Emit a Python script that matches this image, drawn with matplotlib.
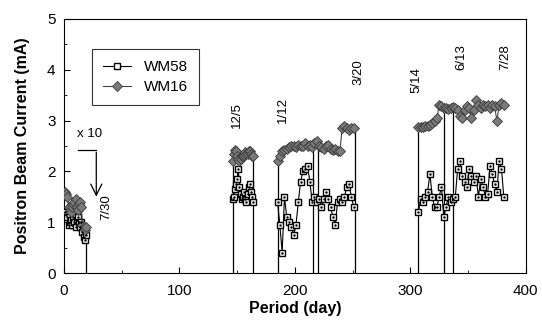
import numpy as np
import matplotlib
matplotlib.use('Agg')
import matplotlib.pyplot as plt

plt.rcParams['font.family'] = ['Liberation Sans', 'DejaVu Sans']

# segment 1 (x 10)
d1 = list(range(1, 20))
wm58_1 = [1.2, 1.15, 1.1, 0.95, 1.0, 1.05, 0.95, 1.1, 1.0, 0.9, 1.05, 1.1, 1.0, 0.9, 1.0, 0.8, 0.7, 0.65, 0.75]
wm16_1 = [1.6, 1.55, 1.5, 1.3, 1.25, 1.2, 1.3, 1.35, 1.4, 1.45, 1.3, 1.25, 1.35, 1.4, 1.3, 0.95, 0.9, 0.85, 0.9]

# segment 2
d2 = list(range(146, 165))
wm58_2 = [1.45, 1.5, 1.65, 1.75, 1.85, 2.05, 1.7, 1.55, 1.45, 1.5, 1.6, 1.45, 1.4, 1.55, 1.7, 1.75, 1.6, 1.5, 1.4]
wm16_2 = [2.2, 2.35, 2.42, 2.4, 2.3, 2.25, 2.2, 2.25, 2.3, 2.3, 2.32, 2.38, 2.35, 2.35, 2.4, 2.4, 2.35, 2.3, 2.3]

# segment 3
d3 = list(range(185, 253, 2))
wm58_3 = [1.4, 0.95, 0.4, 1.5, 1.1, 1.0, 0.9, 0.75, 0.95, 1.4, 1.8, 2.0, 2.05, 2.1, 1.8, 1.4, 1.5,
          1.4, 1.45, 1.3, 1.45, 1.6, 1.45, 1.3, 1.1, 0.95, 1.4, 1.45, 1.4, 1.5, 1.7, 1.75, 1.5, 1.3]
wm16_3 = [2.2, 2.3, 2.4, 2.42, 2.45, 2.48, 2.5, 2.5, 2.48, 2.52, 2.5, 2.5, 2.55, 2.5, 2.52, 2.48, 2.55,
          2.6, 2.5, 2.48, 2.45, 2.5, 2.52, 2.45, 2.42, 2.45, 2.4, 2.4, 2.85, 2.9, 2.85, 2.82, 2.85, 2.85]

# segment 4
d4 = list(range(307, 382, 2))
wm58_4 = [1.2, 1.45, 1.4, 1.5, 1.6, 1.95, 1.5, 1.3, 1.3, 1.5, 1.7, 1.1, 1.3, 1.5, 1.4, 1.45, 1.5, 2.05, 2.2,
          1.9, 1.8, 1.7, 2.05, 1.9, 1.8, 1.9, 1.5, 1.85, 1.7, 1.5, 1.55, 2.1, 1.95, 1.75, 1.6, 2.2, 2.05, 1.5]
wm16_4 = [2.87, 2.88, 2.88, 2.9, 2.9, 2.92, 2.95, 3.0, 3.05, 3.3, 3.28, 3.25, 3.25, 3.22, 3.25, 3.27, 3.25,
          3.2, 3.1, 3.05, 3.2, 3.28, 3.25, 3.05, 3.2, 3.4, 3.3, 3.25, 3.3, 3.28, 3.3, 3.25, 3.3, 3.28,
          3.0, 3.3, 3.35, 3.3]

segments = [(d1, wm58_1, wm16_1), (d2, wm58_2, wm16_2), (d3, wm58_3, wm16_3), (d4, wm58_4, wm16_4)]

# vertical separator lines (day, top)
break_days = [19, 146, 164, 185, 216, 220, 252, 307, 329, 337]
break_tops = [0.85, 2.2, 2.3, 2.2, 2.5, 2.55, 2.85, 2.87, 3.25, 3.27]

# date labels (day, y)
date_labels = [('7/30', 37, 1.05), ('12/5', 150, 2.85), ('1/12', 190, 2.95), ('3/20', 255, 3.7),
               ('5/14', 305, 3.55), ('6/13', 344, 4.0), ('7/28', 382, 4.0)]

fig = plt.figure(figsize=(5.42, 3.27), dpi=100)
ax = fig.add_axes([0.118, 0.165, 0.852, 0.777])

for i, (d, a, b) in enumerate(segments):
    ax.plot(d, a, color='black', lw=0.8, marker='s', ms=5, mfc='white', mec='black', mew=1.0,
            label='WM58' if i == 0 else None, zorder=3)
    ax.plot(d, a, ls='none', marker='.', ms=1.5, color='black', zorder=4)
    ax.plot(d, b, color='#444444', lw=0.8, marker='D', ms=5, mfc='#7a7a7a', mec='#3a3a3a', mew=0.6,
            label='WM16' if i == 0 else None, zorder=3)

ax.vlines(break_days, 0, break_tops, color='black', lw=0.9, zorder=2)

for txt, x, y in date_labels:
    ax.text(x, y, txt, rotation=90, fontsize=9.5, ha='center', va='bottom')

ax.text(22, 2.62, 'x 10', fontsize=9.5, ha='center', va='bottom')
ax.plot([12, 28], [2.42, 2.42], color='black', lw=0.9)
ax.annotate('', xy=(28, 1.45), xytext=(28, 2.43),
            arrowprops=dict(arrowstyle='->', color='black', lw=0.9, mutation_scale=20))

ax.set_xlim(0, 400)
ax.set_ylim(0, 5)
ax.set_xticks([0, 100, 200, 300, 400])
ax.set_xticks([50, 150, 250, 350], minor=True)
ax.set_yticks([0, 1, 2, 3, 4, 5])
ax.set_yticks(np.arange(0.5, 5, 1.0), minor=True)
ax.tick_params(direction='in', labelsize=11, length=4)
ax.tick_params(axis='x', pad=8)
ax.tick_params(axis='y', pad=6)
ax.tick_params(which='minor', direction='in', length=2.5)
ax.set_xlabel('Period (day)', fontsize=11.5, fontweight='bold', labelpad=2)
ax.set_ylabel('Positron Beam Current (mA)', fontsize=11.5, fontweight='bold', labelpad=12)

leg = ax.legend(loc='upper left', bbox_to_anchor=(0.045, 0.91), fontsize=11, frameon=True,
                fancybox=False, edgecolor='black', handlelength=1.8, handletextpad=0.9,
                borderpad=0.7, labelspacing=0.4)
leg.get_frame().set_linewidth(0.8)

fig.savefig('out.png', dpi=100)
